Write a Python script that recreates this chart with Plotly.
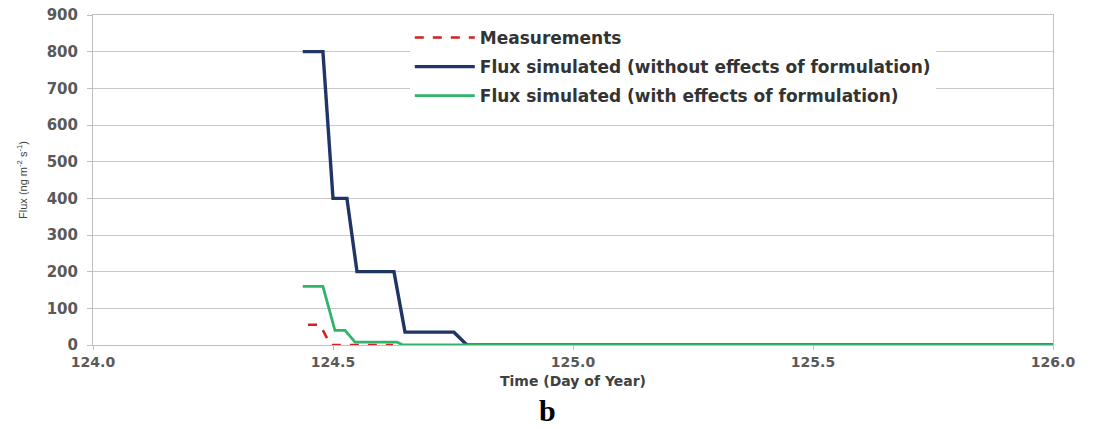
import plotly.graph_objects as go

# Data
meas_x = [124.448, 124.473, 124.495, 124.625]
meas_y = [55, 55, 0, 0]

blue_x = [124.437, 124.479, 124.500, 124.529, 124.550, 124.627, 124.650, 124.752, 124.779,
          125.270, 125.290, 125.530, 125.545, 126.0]
blue_y = [800, 800, 400, 400, 200, 200, 35, 35, 0,
          0, 2, 2, 0, 0]

green_x = [124.437, 124.479, 124.504, 124.525, 124.546, 124.633, 124.646, 126.0]
green_y = [160, 160, 40, 40, 8, 8, 0, 0]

x_ticks = [124.0, 124.5, 125.0, 125.5, 126.0]
y_ticks = [0, 100, 200, 300, 400, 500, 600, 700, 800, 900]

FONT = "DejaVu Sans"

fig = go.Figure()
fig.add_trace(go.Scatter(x=meas_x, y=meas_y, mode="lines", name="<b>Measurements</b>",
                         line=dict(color="#d42020", width=2.5, dash="dash"),
                         legendgroup="a"))
fig.add_trace(go.Scatter(x=blue_x, y=blue_y, mode="lines",
                         name="<b>Flux simulated (without effects of formulation)</b>",
                         line=dict(color="#1f3568", width=3.4), legendgroup="b"))
fig.add_trace(go.Scatter(x=green_x, y=green_y, mode="lines",
                         name="<b>Flux simulated (with effects of formulation)</b>",
                         line=dict(color="#2fb56a", width=2.8), legendgroup="c"))

fig.update_layout(
    width=1095, height=429,
    margin=dict(l=93, r=42, t=15, b=84, autoexpand=False),
    paper_bgcolor="white", plot_bgcolor="white",
    showlegend=True,
    legend=dict(x=0.33, y=0.985, xanchor="left", yanchor="top",
                font=dict(family=FONT, size=17, color="#333333"),
                bgcolor="rgba(255,255,255,1)", tracegroupgap=4,
                itemwidth=60),
    font=dict(family=FONT),
)

fig.update_xaxes(range=[124.0, 126.0], tickvals=x_ticks,
                 ticktext=[f"<b>{v:.1f}</b>" for v in x_ticks],
                 tickfont=dict(family=FONT, size=14, color="#595959"),
                 showgrid=False, zeroline=False, automargin=False,
                 showline=True, linecolor="#bfbfbf", linewidth=1, mirror=True,
                 ticks="outside", ticklen=4, tickcolor="#bfbfbf",
                 ticklabeloverflow="allow")
fig.update_yaxes(range=[0, 900], tickvals=y_ticks,
                 ticktext=[f"<b>{v}</b>" for v in y_ticks],
                 tickfont=dict(family=FONT, size=15, color="#595959"),
                 showgrid=True, gridcolor="#c8c8c8", gridwidth=1, zeroline=False,
                 automargin=False,
                 showline=True, linecolor="#bfbfbf", linewidth=1, mirror=True,
                 ticks="outside", ticklen=5, tickcolor="#bfbfbf",
                 ticklabelstandoff=6, ticklabeloverflow="allow")

fig.add_annotation(text="<b>Time (Day of Year)</b>", xref="paper", yref="paper",
                   x=0.5, y=-0.11, xanchor="center", yanchor="middle", showarrow=False,
                   font=dict(family=FONT, size=14, color="#404040"))
fig.add_annotation(text="Flux (ng m<sup>-2</sup> s<sup>-1</sup>)", xref="paper", yref="paper",
                   x=-0.074, y=0.5, xanchor="center", yanchor="middle", showarrow=False,
                   textangle=-90, font=dict(family="Liberation Sans Narrow, Liberation Sans", size=11, color="#404040"))
fig.add_annotation(text="<b>b</b>", xref="paper", yref="paper",
                   x=0.473, y=-0.197, xanchor="center", yanchor="middle", showarrow=False,
                   font=dict(family="Liberation Serif", size=30, color="black"))

fig.write_html("out.html", config={"displayModeBar": False},
               post_script="document.body.style.margin='0';document.body.style.overflow='hidden';")
